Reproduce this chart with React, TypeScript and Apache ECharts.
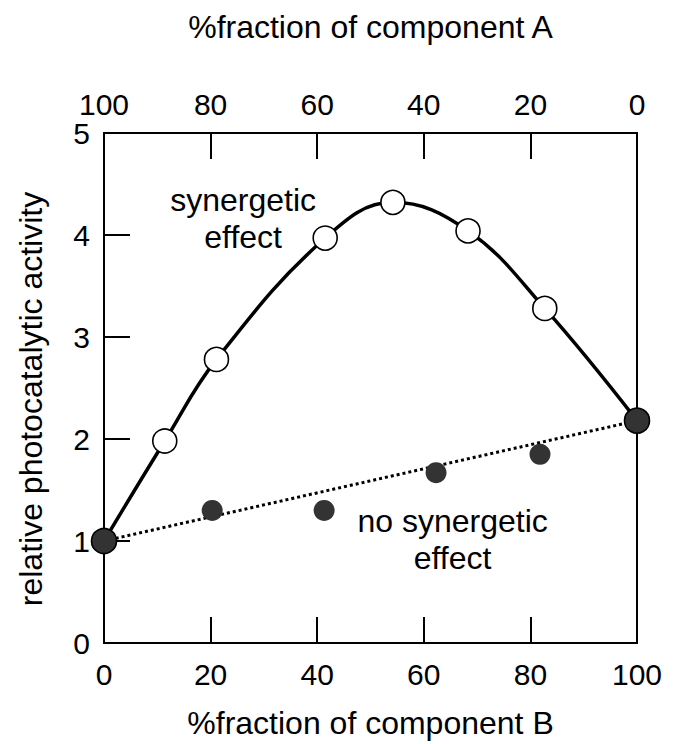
import React, { useEffect, useRef } from "react";
import * as echarts from "echarts";

// fraction of component B (%) and relative activity, synergetic curve
const synX = [0, 11.4, 21.1, 41.5, 54.2, 68.3, 82.7, 100];
const synY = [1.0, 1.98, 2.78, 3.97, 4.32, 4.04, 3.28, 2.18];
// measured points with no synergetic effect
const noX = [20.3, 41.3, 62.3, 81.8];
const noY = [1.3, 1.3, 1.67, 1.85];
// pure components (end points)
const endX = [0, 100];
const endY = [1.0, 2.18];
// annotation anchors (data coordinates)
const noteTexts = ["synergetic\neffect", "no synergetic\neffect"];
const noteX = [26.1, 65.4];
const noteY = [4.16, 1.01];

const FONT = "Liberation Sans, Arial, Helvetica, sans-serif";

export default function App() {
  const ref = useRef<HTMLDivElement>(null);
  useEffect(() => {
    if (!ref.current) return;
    const chart = echarts.init(ref.current, null, { renderer: "svg" });
    const zip = (xs: number[], ys: number[]) => xs.map((x, i) => [x, ys[i]]);
    const synData = zip(synX, synY);
    const openPts = synData.slice(1, synData.length - 1);
    const axisLine = { show: true, onZero: false, lineStyle: { color: "#000", width: 2 } };
    const tick = { show: true, inside: true, length: 26, lineStyle: { color: "#000", width: 2 } };
    const labelStyle = { color: "#000", fontSize: 30, fontFamily: FONT };
    chart.setOption({
      animation: false,
      backgroundColor: "#fff",
      grid: { left: 104, right: 40, top: 133, bottom: 97, containLabel: false },
      xAxis: [
        {
          type: "value",
          position: "bottom",
          min: 0,
          max: 100,
          interval: 20,
          axisLine,
          axisTick: tick,
          splitLine: { show: false },
          axisLabel: { ...labelStyle, margin: 16 },
          name: "%fraction of component B",
          nameLocation: "middle",
          nameGap: 64,
          nameTextStyle: { color: "#000", fontSize: 32, fontFamily: FONT },
        },
        {
          type: "value",
          position: "top",
          inverse: true,
          min: 0,
          max: 100,
          interval: 20,
          axisLine,
          axisTick: tick,
          splitLine: { show: false },
          axisLabel: { ...labelStyle, margin: 14 },
          name: "%fraction of component A",
          nameLocation: "middle",
          nameGap: 90,
          nameTextStyle: { color: "#000", fontSize: 32, fontFamily: FONT },
        },
      ],
      yAxis: [
        {
          type: "value",
          position: "left",
          min: 0,
          max: 5,
          interval: 1,
          axisLine,
          axisTick: tick,
          splitLine: { show: false },
          axisLabel: { ...labelStyle, margin: 14 },
          name: "relative photocatalytic activity",
          nameLocation: "middle",
          nameGap: 57,
          nameTextStyle: { color: "#000", fontSize: 32, fontFamily: FONT, padding: [0, 22, 0, 0] },
        },
        {
          type: "value",
          position: "right",
          min: 0,
          max: 5,
          interval: 1,
          axisLine,
          axisTick: { show: false },
          axisLabel: { show: false },
          splitLine: { show: false },
        },
      ],
      series: [
        {
          type: "line",
          data: zip(endX, endY),
          showSymbol: false,
          symbol: "none",
          lineStyle: { color: "#000", width: 3, type: "dotted" },
          z: 2,
        },
        {
          type: "line",
          data: synData,
          smooth: 0.4,
          showSymbol: false,
          symbol: "none",
          lineStyle: { color: "#000", width: 3.5 },
          z: 3,
        },
        {
          type: "scatter",
          data: zip(noX, noY),
          symbol: "circle",
          symbolSize: 21,
          itemStyle: { color: "#333", opacity: 1 },
          z: 4,
        },
        {
          type: "scatter",
          data: openPts,
          symbol: "circle",
          symbolSize: 24,
          itemStyle: { color: "#fff", borderColor: "#000", borderWidth: 1.6, opacity: 1 },
          z: 5,
        },
        {
          type: "scatter",
          data: zip(endX, endY),
          symbol: "circle",
          symbolSize: 25,
          itemStyle: { color: "#333", borderColor: "#000", borderWidth: 1.6, opacity: 1 },
          z: 6,
        },
        {
          type: "scatter",
          data: noteTexts.map((t, i) => ({ value: [noteX[i], noteY[i]], name: t })),
          symbolSize: 0,
          silent: true,
          itemStyle: { opacity: 1, color: "#000" },
          label: {
            show: true,
            position: "inside",
            formatter: (p: any) => p.name,
            color: "#000",
            opacity: 1,
            fontSize: 32,
            fontFamily: FONT,
            lineHeight: 37,
            align: "center",
            verticalAlign: "middle",
          },
          z: 7,
        },
      ],
    });
    return () => chart.dispose();
  }, []);
  return (
    <div
      ref={ref}
      style={{ position: "fixed", left: 0, top: 0, width: 677, height: 744, background: "#fff" }}
    />
  );
}
